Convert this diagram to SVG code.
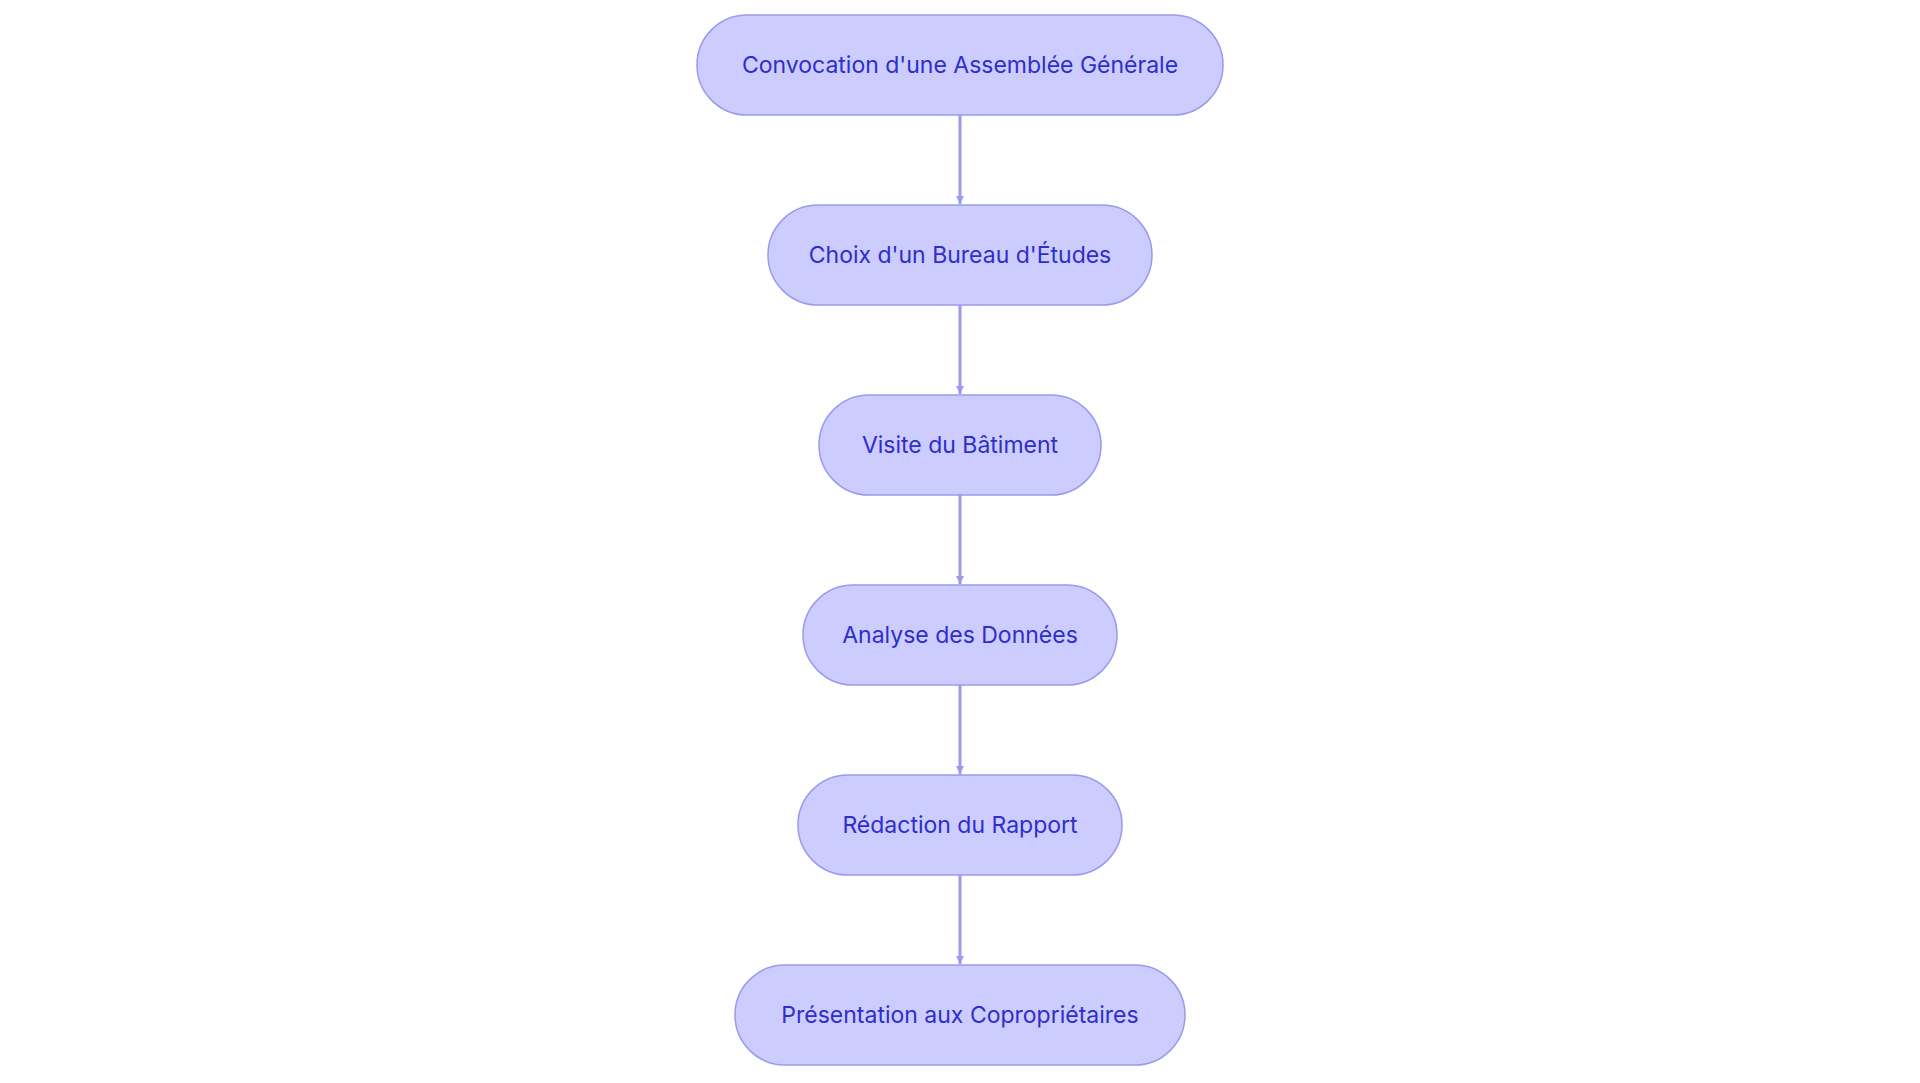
<svg xmlns="http://www.w3.org/2000/svg" width="1920" height="1083" viewBox="0 0 1920 1083">
<style>
.n rect{fill:#ccccff;stroke:#9a9aee;stroke-width:1.5}
.n text{font-family:Inter,"Noto Sans",sans-serif;font-size:23px;fill:#2e2ecc;text-anchor:middle;dominant-baseline:central}
.c line{stroke:#9a9aee;stroke-width:3;marker-end:url(#a)}
</style>
<defs><marker id="a" viewBox="0 0 10 10" refX="10" refY="5" markerWidth="8" markerHeight="8" markerUnits="userSpaceOnUse" orient="auto"><path d="M0,0L10,5L0,10z" fill="#9a9aee"/></marker></defs>
<rect width="1920" height="1083" fill="#fff"/>
<g class="c">
<line x1="960" y1="115" x2="960" y2="204"/>
<line x1="960" y1="305" x2="960" y2="394"/>
<line x1="960" y1="495" x2="960" y2="584"/>
<line x1="960" y1="685" x2="960" y2="774"/>
<line x1="960" y1="875" x2="960" y2="964"/>
</g>
<defs><marker id="b"/></defs>
<g id="n1" class="n"><rect x="697" y="15" width="526" height="100" rx="50"/><text x="960" y="65">Convocation d'une Assemblée Générale</text></g>
<g id="n2" class="n"><rect x="768" y="205" width="384" height="100" rx="50"/><text x="960" y="255">Choix d'un Bureau d'Études</text></g>
<g id="n3" class="n"><rect x="819" y="395" width="282" height="100" rx="50"/><text x="960" y="445">Visite du Bâtiment</text></g>
<g id="n4" class="n"><rect x="803" y="585" width="314" height="100" rx="50"/><text x="960" y="635">Analyse des Données</text></g>
<g id="n5" class="n"><rect x="798" y="775" width="324" height="100" rx="50"/><text x="960" y="825">Rédaction du Rapport</text></g>
<g id="n6" class="n"><rect x="735" y="965" width="450" height="100" rx="50"/><text x="960" y="1015">Présentation aux Copropriétaires</text></g>
</svg>
